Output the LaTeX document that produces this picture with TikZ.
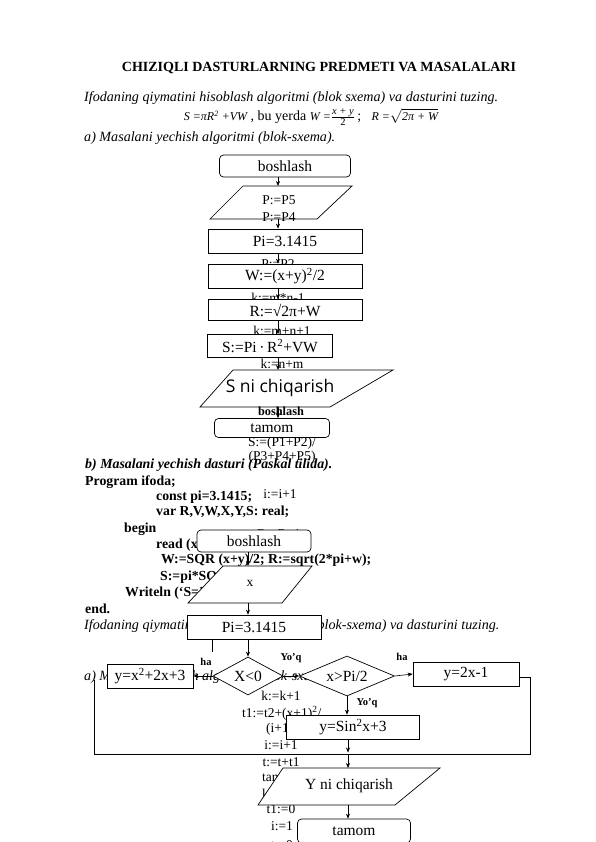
\documentclass[tikz,border=0pt]{standalone}
\usepackage{fontspec}
\setmainfont{Liberation Serif}
\newfontfamily\osans{Open Sans}
\usetikzlibrary{arrows.meta,shapes.geometric}
\begin{document}
\begin{tikzpicture}[x=1pt,y=-1pt,
  box/.style={draw,fill=white,line width=0.7pt,inner sep=0pt,font=\fontsize{15.5}{16}\selectfont},
  rbox/.style={box,rounded corners=4pt},
  dia/.style={box,diamond},
  para/.style={draw,fill=white,line width=0.7pt},
  arr/.style={-{Stealth[length=5pt,width=4pt]},line width=0.6pt},
  ln/.style={line width=0.7pt},
  body/.style={inner sep=0pt,font=\fontsize{14}{15}\selectfont},
  bodyi/.style={body,font=\fontsize{14.1}{15}\itshape},
  bodyb/.style={body,font=\fontsize{13.8}{15}\bfseries},
  lbl/.style={inner sep=0pt,font=\fontsize{10.5}{12}\bfseries\selectfont},
  ptxt/.style={inner sep=0pt,font=\fontsize{13.5}{14}\selectfont}]
\useasboundingbox (0,0) rectangle (596,842);
\fill[white] (0,0) rectangle (596,842);

% ---------- header ----------
\node[inner sep=0pt,font=\fontsize{14}{15}\bfseries] (title) at (319,68) {CHIZIQLI DASTURLARNING PREDMETI VA MASALALARI};
\node[bodyi,anchor=west] (task1) at (84,98) {Ifodaning qiymatini hisoblash algoritmi (blok sxema) va dasturini tuzing.};
\node[inner sep=0pt] (formula) at (311,117) {{\fontsize{12}{13}\itshape S =πR\textsuperscript{2} +VW}\fontsize{14}{15}\selectfont\ , bu yerda {\fontsize{12}{13}\itshape W =}$\frac{\mbox{\fontsize{10.5}{11}\itshape x + y}}{\mbox{\fontsize{10.5}{11}\selectfont 2}}$\,; \ \ {\fontsize{12}{13}\itshape R =}$\sqrt{\mbox{\fontsize{12}{13}\itshape 2π + W}}$};
\node[bodyi,anchor=west] (parta) at (84,138) {a) Masalani yechish algoritmi (blok-sxema).};

% ---------- flowchart 1 ----------
\coordinate (ax1) at (278,0);
\node[ptxt] (lp3) at (278,235) {P:=P3};
\node[ptxt] (lp2) at (278,264) {P:=P2};
\node[ptxt] (lk1) at (278,298) {k:=m*n-1};
\node[ptxt] (lk2) at (282,331) {k:=m+n+1};
\node[ptxt] (lk3) at (282,364) {k:=n+m};
\node[ptxt] (ls1) at (282,443) {S:=(P1+P2)/};
\node[ptxt] (ls2) at (282,457) {(P3+P4+P5)};

\node[rbox,minimum width=131pt,minimum height=22pt] (start1) at (285,166) {boshlash};
\draw[para] (243,186) -- (352,186) -- (317,219) -- (210,219) -- cycle;
\coordinate (p1t) at (278,186);
\coordinate (p1b) at (278,219);
\node[ptxt] (p1a) at (279,200) {P:=P5};
\node[ptxt] (p1c) at (279,217) {P:=P4};
\node[box,minimum width=154pt,minimum height=24pt] (pi1) at (285,241) {Pi=3.1415};
\node[box,minimum width=154pt,minimum height=24pt] (w1) at (285,276) {W:=(x+y)\textsuperscript{2}/2};
\node[box,minimum width=154pt,minimum height=21pt] (r1) at (285,310) {R:=√2π+W};
\node[box,minimum width=125pt,minimum height=23pt] (s1) at (270,346) {S:=Pi\,·\,R\textsuperscript{2}+VW};
\draw[para] (233,370) -- (393,370) -- (330,407) -- (200,407) -- cycle;
\coordinate (p2t) at (278,370);
\coordinate (p2b) at (278,407);
\node[inner sep=0pt,font=\osans\fontsize{17.5}{18}\selectfont] (p2txt) at (280,388) {S ni chiqarish};
\node[inner sep=0pt,font=\fontsize{12.3}{13}\bfseries] (lb1) at (281,411) {boshlash};
\node[rbox,minimum width=115pt,minimum height=19pt] (end1) at (272,428) {tamom};

\draw[arr] (start1.south -| ax1) -- (p1t);
\draw[arr] (p1b) -- (pi1.north -| ax1);
\draw[arr] (pi1.south -| ax1) -- (w1.north -| ax1);
\draw[arr] (w1.south -| ax1) -- (r1.north -| ax1);
\draw[arr] (r1.south -| ax1) -- (s1.north -| ax1);
\draw[arr] (s1.south -| ax1) -- (p2t);
\draw[arr] (p2b) -- (end1.north -| ax1);

% ---------- part b ----------
\node[body,anchor=west,font=\fontsize{13.9}{15}\bfseries\itshape] (partb) at (85,465) {b) Masalani yechish dasturi (Paskal tilida).};
\node[bodyb,anchor=west] (c1) at (85,482) {Program ifoda;};
\node[bodyb,anchor=west] (c2) at (156,497) {const pi=3.1415;};
\node[ptxt] (li1) at (280,494) {i:=i+1};
\node[bodyb,anchor=west] (c3) at (156,512) {var R,V,W,X,Y,S: real;};
\node[bodyb,anchor=west] (c4) at (124,529) {begin};
\node[ptxt] (lr1) at (279,534) {R:=R+1};
\node[bodyb,anchor=west] (c5) at (156,545) {read (x,y,v);};
\node[bodyb,anchor=west] (c6) at (161,560) {W:=SQR (x+y)/2; R:=sqrt(2*pi+w);};
\node[bodyb,anchor=west] (c7) at (160,577) {S:=pi*SQR(R)+V*W;};
\node[bodyb,anchor=west] (c8) at (125,593) {Writeln (‘S=’,S);};
\node[bodyb,anchor=west] (c9) at (85,609) {end.};
\node[bodyi,anchor=west] (task2) at (84,626) {Ifodaning qiymatini hisoblash algoritmi (blok-sxema) va dasturini tuzing.};
\node[bodyi,anchor=west] (parta2) at (84,677) {a) Masalani yechish algoritmi (blok-sxema).};

% left-over column
\node[ptxt] (t1) at (281,696) {k:=k+1};
\node[ptxt,anchor=west] (t2) at (242,713) {t1:=t2+(x+1)\textsuperscript{2}/};
\node[ptxt,anchor=west] (t3) at (266,729) {(i+1)};
\node[ptxt] (t4) at (281,745) {i:=i+1};
\node[ptxt] (t5) at (281,762) {t:=t+t1};
\node[ptxt,anchor=west] (t6) at (262,778) {tamom};
\node[ptxt,anchor=west] (t7) at (262,794) {k:=1};
\node[ptxt] (t8) at (281,809) {t1:=0};
\node[ptxt] (t9) at (282,826) {i:=1};
\node[ptxt] (t10) at (282,845) {t:=0};

% ---------- flowchart 2 ----------
\coordinate (ax2) at (248,0);
\coordinate (ax3) at (348,0);
\node[rbox,minimum width=114pt,minimum height=22pt] (start2) at (254,541) {boshlash};
\draw[para] (223,566) -- (312,566) -- (282,603) -- (188,603) -- cycle;
\coordinate (p3t) at (248,566);
\coordinate (p3b) at (248,603);
\node[inner sep=0pt,font=\fontsize{13.5}{14}\selectfont] (p3txt) at (250,583) {x};
\node[box,minimum width=134pt,minimum height=24pt] (pi2) at (254,627) {Pi=3.1415};
\coordinate (st1) at (212,639);
\coordinate (st2) at (212,652);
\draw[ln] (st1) -- (st2);

\node[dia,minimum width=70pt,minimum height=38pt,shape aspect=1.9] (d1) at (248,676) {X<0};
\node[dia,minimum width=95pt,minimum height=40pt,shape aspect=2.4] (d2) at (347,676) {x>Pi/2};
\node[box,minimum width=86pt,minimum height=24pt] (bx1) at (150,676) {y=x\textsuperscript{2}+2x+3};
\node[box,minimum width=106pt,minimum height=24pt] (bx2) at (466,674) {y=2x-1};
\node[box,minimum width=133pt,minimum height=24pt] (bx3) at (353,727) {y=Sin\textsuperscript{2}x+3};

\node[lbl] (ha1) at (206,662) {ha};
\node[lbl] (yo1) at (291,658) {Yo’q};
\node[lbl] (ha2) at (402,657) {ha};
\node[lbl] (yo2) at (367,703) {Yo’q};

\draw[arr] (start2.south -| ax2) -- (p3t);
\draw[arr] (p3b) -- (pi2.north -| ax2);
\draw[arr] (pi2.south -| ax2) -- (d1.north);
\draw[arr] (d1.west) -- (bx1.east);
\draw[arr] (d1.east) -- (d2.west);
\draw[arr] (d2.east) -- (bx2.west);
\draw[arr] (d2.south) -- (bx3.north -| d2.south);

\coordinate (lr) at (530,677);
\coordinate (lb) at (530,754);
\coordinate (ll) at (94,754);
\coordinate (lt) at (94,680);
\coordinate (jn) at (348,754);
\coordinate (jn2) at (348,752.5);
\draw[ln] (bx2.east |- lr) -- (lr) -- (lb) -- (ll) -- (lt);

\draw[para] (283,768) -- (440,768) -- (395,805) -- (258,805) -- cycle;
\coordinate (p4t) at (348,768);
\coordinate (p4b) at (348,805);
\node[inner sep=0pt,font=\fontsize{15.5}{16}\selectfont] (p4txt) at (349,786) {Y ni chiqarish};
\node[rbox,minimum width=113pt,minimum height=24pt] (end2) at (354,831) {tamom};

\draw[arr] (bx3.south -| ax3) -- (jn2);
\draw[arr] (jn) -- (p4t);
\draw[arr] (p4b) -- (end2.north -| ax3);
\end{tikzpicture}
\end{document}
